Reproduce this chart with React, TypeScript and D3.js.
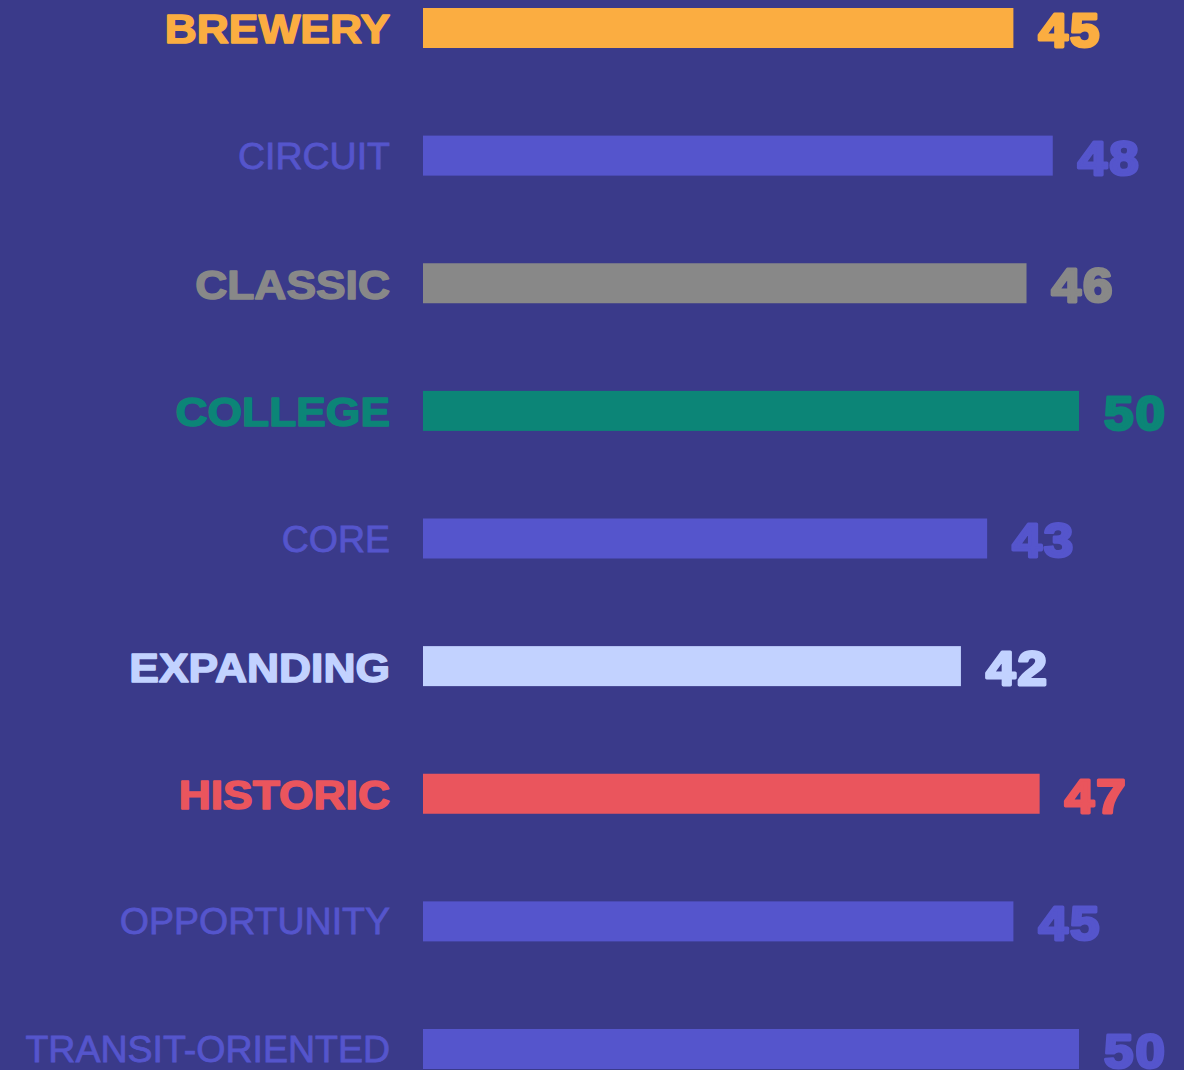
import React from "react";
import * as d3 from "d3";

const categories = ["BREWERY", "CIRCUIT", "CLASSIC", "COLLEGE", "CORE", "EXPANDING", "HISTORIC", "OPPORTUNITY", "TRANSIT-ORIENTED"];
const barValues = [45, 48, 46, 50, 43, 41, 47, 45, 50];
const valueLabels = ["45", "48", "46", "50", "43", "42", "47", "45", "50"];
const colors = ["#fbad41", "#5555cc", "#888888", "#0c8577", "#5555cc", "#c2d2ff", "#ea555d", "#5555cc", "#5555cc"];
const highlighted = [true, false, true, true, false, true, true, false, false];

const W = 1184;
const H = 1070;
const BG = "#3a3a8a";

export default function App() {
  const x = d3.scaleLinear().domain([0, 50]).range([423, 1079]);
  const y = d3.scaleBand<string>().domain(categories).range([8, 1069]).paddingInner(0.6866).paddingOuter(0);
  const bw = y.bandwidth();
  return (
    <div style={{ position: "absolute", left: 0, top: 0, width: W, height: H, overflow: "hidden" }}>
      <svg width={W} height={H} style={{ display: "block" }}>
        <rect x={0} y={0} width={W} height={H} fill={BG} />
        {categories.map((c, i) => {
          const top = y(c)!;
          const cy = top + bw / 2;
          const hl = highlighted[i];
          const vx = x(barValues[i]) + 25;
          return (
            <g key={c}>
              <rect x={x(0)} y={top} width={x(barValues[i]) - x(0)} height={bw} fill={colors[i]} />
              {hl ? (
                <text
                  transform={`translate(390,${cy + 15.5}) scale(1.11,1)`}
                  textAnchor="end"
                  fill={colors[i]}
                  stroke={colors[i]}
                  strokeWidth={1.5}
                  strokeLinejoin="round"
                  fontFamily="'Liberation Sans', Arial, sans-serif"
                  fontWeight={700}
                  fontSize={40}
                >
                  {c}
                </text>
              ) : (
                <text
                  x={390}
                  y={cy + 13}
                  textAnchor="end"
                  fill={colors[i]}
                  stroke={colors[i]}
                  strokeWidth={0.8}
                  fontFamily="'Liberation Sans', Arial, sans-serif"
                  fontWeight={400}
                  fontSize={37.5}
                >
                  {c}
                </text>
              )}
              <text
                transform={`translate(${vx},${top + bw - 1}) scale(1.1,1)`}
                textAnchor="start"
                fill={colors[i]}
                stroke={colors[i]}
                strokeWidth={3}
                strokeLinejoin="round"
                fontFamily="'Liberation Sans', Arial, sans-serif"
                fontWeight={700}
                fontSize={48}
                letterSpacing={2}
              >
                {valueLabels[i]}
              </text>
            </g>
          );
        })}
      </svg>
    </div>
  );
}
